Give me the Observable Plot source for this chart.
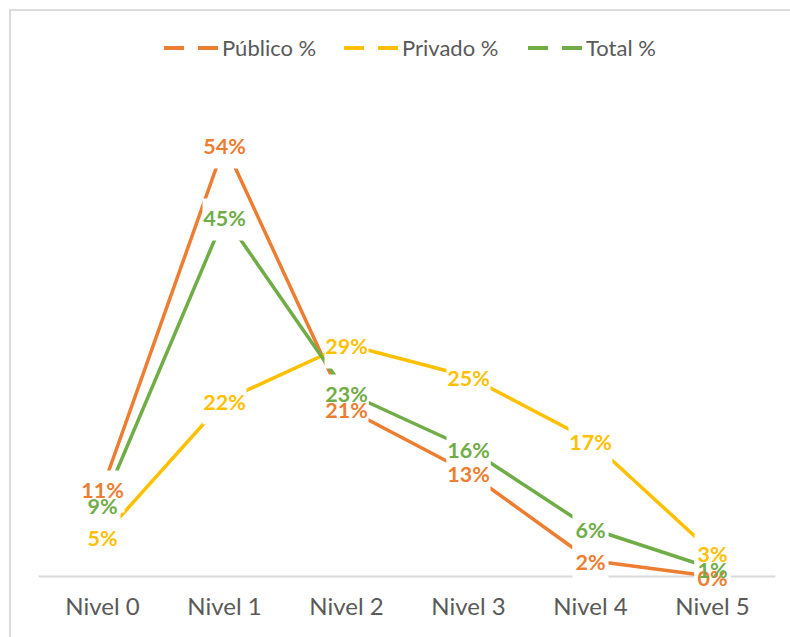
<!DOCTYPE html>
<html>
<head>
<meta charset="utf-8">
<script src="https://cdn.jsdelivr.net/npm/d3@7"></script>
<script src="https://cdn.jsdelivr.net/npm/@observablehq/plot@0.6"></script>
<style>
  html, body { margin: 0; padding: 0; background: #fff; }
  #wrap { position: relative; width: 790px; height: 637px; overflow: hidden; font-family: Lato, "Open Sans", sans-serif; }
  #frame { position: absolute; left: 9px; top: 9px; width: 900px; height: 900px; border-left: 2px solid #DCDCDC; border-top: 2px solid #DCDCDC; pointer-events: none; }
  #legend { position: absolute; left: 0; top: 0; width: 790px; height: 80px; }
  .item { position: absolute; top: 34px; display: flex; align-items: center; font-size: 22px; color: #595959; white-space: nowrap; }
  .item svg { margin-right: 4px; }
  #chart { position: absolute; left: 0; top: 80px; }
</style>
</head>
<body>
<div id="wrap">
  <div id="legend"></div>
  <div id="chart"></div>
  <div id="frame"></div>
</div>
<script>
const categories = ["Nivel 0", "Nivel 1", "Nivel 2", "Nivel 3", "Nivel 4", "Nivel 5"];
const seriesNames = ["Público %", "Privado %", "Total %"];
const seriesColors = ["#ED7D31", "#FFC000", "#70AD47"];
const publico = [11, 54, 21, 13, 2, 0];
const privado = [5, 22, 29, 25, 17, 3];
const total = [9, 45, 23, 16, 6, 1];

const seriesValues = [publico, privado, total];
const rows = [];
seriesValues.forEach((vals, si) => {
  vals.forEach((v, i) => rows.push({series: seriesNames[si], cat: categories[i], value: v, label: v + "%"}));
});

// legend
const legend = document.getElementById("legend");
const legendX = [164, 344, 528];
seriesNames.forEach((name, i) => {
  const d = document.createElement("div");
  d.className = "item";
  d.style.left = legendX[i] + "px";
  d.innerHTML = `<svg width="54" height="6"><line x1="0" x2="20" y1="3" y2="3" stroke="${seriesColors[i]}" stroke-width="4"/><line x1="34" x2="54" y1="3" y2="3" stroke="${seriesColors[i]}" stroke-width="4"/></svg><span>${name}</span>`;
  legend.appendChild(d);
});

function boxSymbol(w, h) {
  return { draw(context) { context.rect(-w / 2, -h / 2, w, h); } };
}
const short = rows.filter(d => d.label.length <= 2);
const long = rows.filter(d => d.label.length > 2);

const chart = Plot.plot({
  width: 790,
  height: 557,
  marginTop: 16,
  marginBottom: 61,
  marginLeft: 38.6,
  marginRight: 14.6,
  style: { fontFamily: "Lato, 'Open Sans', sans-serif", color: "#595959", background: "transparent" },
  x: { type: "point", domain: categories, padding: 0.5, label: null },
  y: { domain: [0, 60], axis: null },
  color: { domain: seriesNames, range: seriesColors },
  marks: [
    Plot.ruleY([0], { stroke: "#D9D9D9", strokeWidth: 2 }),
    Plot.line(rows, { x: "cat", y: "value", z: "series", stroke: "series", strokeWidth: 3.5, strokeLinecap: "butt" }),
    Plot.dot(short, { x: "cat", y: "value", dy: 3, symbol: boxSymbol(36, 42), fill: "white", stroke: null, r: 10 }),
    Plot.dot(long, { x: "cat", y: "value", dy: 3, symbol: boxSymbol(44, 42), fill: "white", stroke: null, r: 10 }),
    Plot.axisX({ tickSize: 0, tickPadding: 21, fontSize: 24, label: null, fill: "#595959" }),
    Plot.text(rows, { x: "cat", y: "value", dy: 3, text: "label", fill: "series", fontSize: 21.5, fontWeight: "bold", fontFamily: "Lato" })
  ]
});
document.getElementById("chart").appendChild(chart);
</script>
</body>
</html>
